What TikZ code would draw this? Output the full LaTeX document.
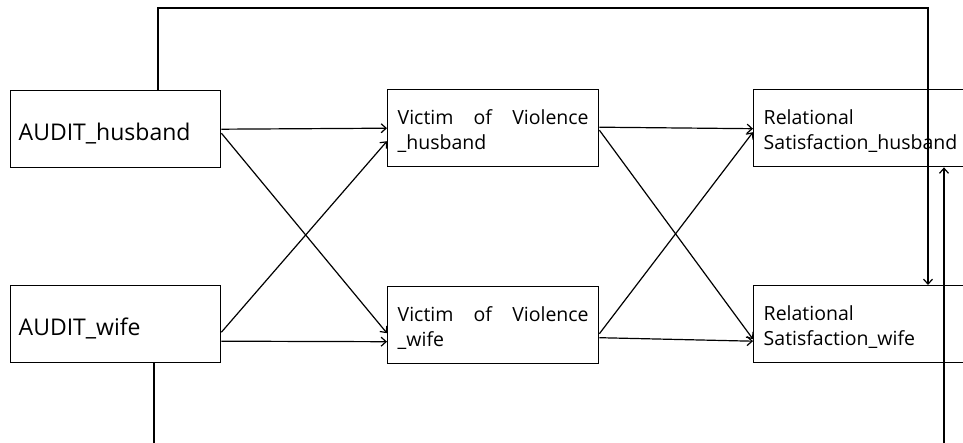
\documentclass[tikz,border=0pt]{standalone}
\usepackage{fontspec}
\setmainfont{Open Sans}
\usetikzlibrary{arrows.meta,calc}
\newcommand{\lowr}[2]{\raisebox{-#1}[\height][\depth]{#2}}
\begin{document}
\begin{tikzpicture}[x=1pt,y=-1pt,
  box/.style={draw,line width=1.4pt,anchor=north west,align=left,inner ysep=0pt},
  abox/.style={box,minimum height=77pt,text width=194pt,inner xsep=8pt,font=\fontsize{23}{27}\selectfont},
  vbox/.style={box,minimum height=77pt,text width=191pt,inner xsep=10pt,font=\fontsize{19.5}{25}\selectfont},
  rbox/.style={box,minimum height=77pt,text width=240pt,inner xsep=10pt,font=\fontsize{19.5}{25}\selectfont},
  conn/.style={line width=1.2pt,-{Straight Barb[length=5pt,width=9pt]}}]
\useasboundingbox (0,0) rectangle (963,443);
\clip (0,0) rectangle (963,443);
\node[abox] (ah) at (10,90) {\lowr{4pt}{AUDIT\_husband}};
\node[abox] (aw) at (10,285) {\lowr{4pt}{AUDIT\_wife}};
\node[vbox] (vh) at (387,89) {\lowr{3pt}{\parbox{191pt}{\makebox[191pt]{Victim\hfill of\hfill Violence}\\\_husband}}};
\node[vbox] (vw) at (387,286) {\lowr{3pt}{\parbox{191pt}{\makebox[191pt]{Victim\hfill of\hfill Violence}\\\_wife}}};
\node[rbox] (rh) at (753,89) {\lowr{3pt}{\parbox{240pt}{Relational\\Satisfaction\_husband}}};
\node[rbox] (rw) at (753,285) {\lowr{3pt}{\parbox{240pt}{Relational\\Satisfaction\_wife}}};
\coordinate (x1) at (158,8);
\coordinate (x2) at (154,0);
\coordinate (x3) at (928,0);
\coordinate (x4) at (944,0);
% left stage
\draw[conn] (ah.east) -- (vh.west);
\draw[conn] ($(ah.east)+(0,4)$) -- ($(vw.west)+(0,8)$);
\draw[conn] ($(aw.east)+(0,8)$) -- ($(vh.west)+(0,13)$);
\draw[conn] ($(aw.east)+(0,17)$) -- ($(vw.west)+(0,16.5)$);
% right stage
\draw[conn] ($(vh.east)+(0,-1)$) -- ($(rh.west)+(0,0.5)$);
\draw[conn] ($(vh.east)+(0,2)$) -- ($(rw.west)+(0,15)$);
\draw[conn] ($(vw.east)+(0,8.5)$) -- ($(rh.west)+(0,4)$);
\draw[conn] ($(vw.east)+(0,12.5)$) -- ($(rw.west)+(0,17)$);
% long connectors
\draw[conn] (ah.north -| x1) -- (x1) -| (rw.north -| x3);
\draw[conn] (aw.south -| x2) -- (154,470) -| (rh.south -| x4);
\end{tikzpicture}
\end{document}
